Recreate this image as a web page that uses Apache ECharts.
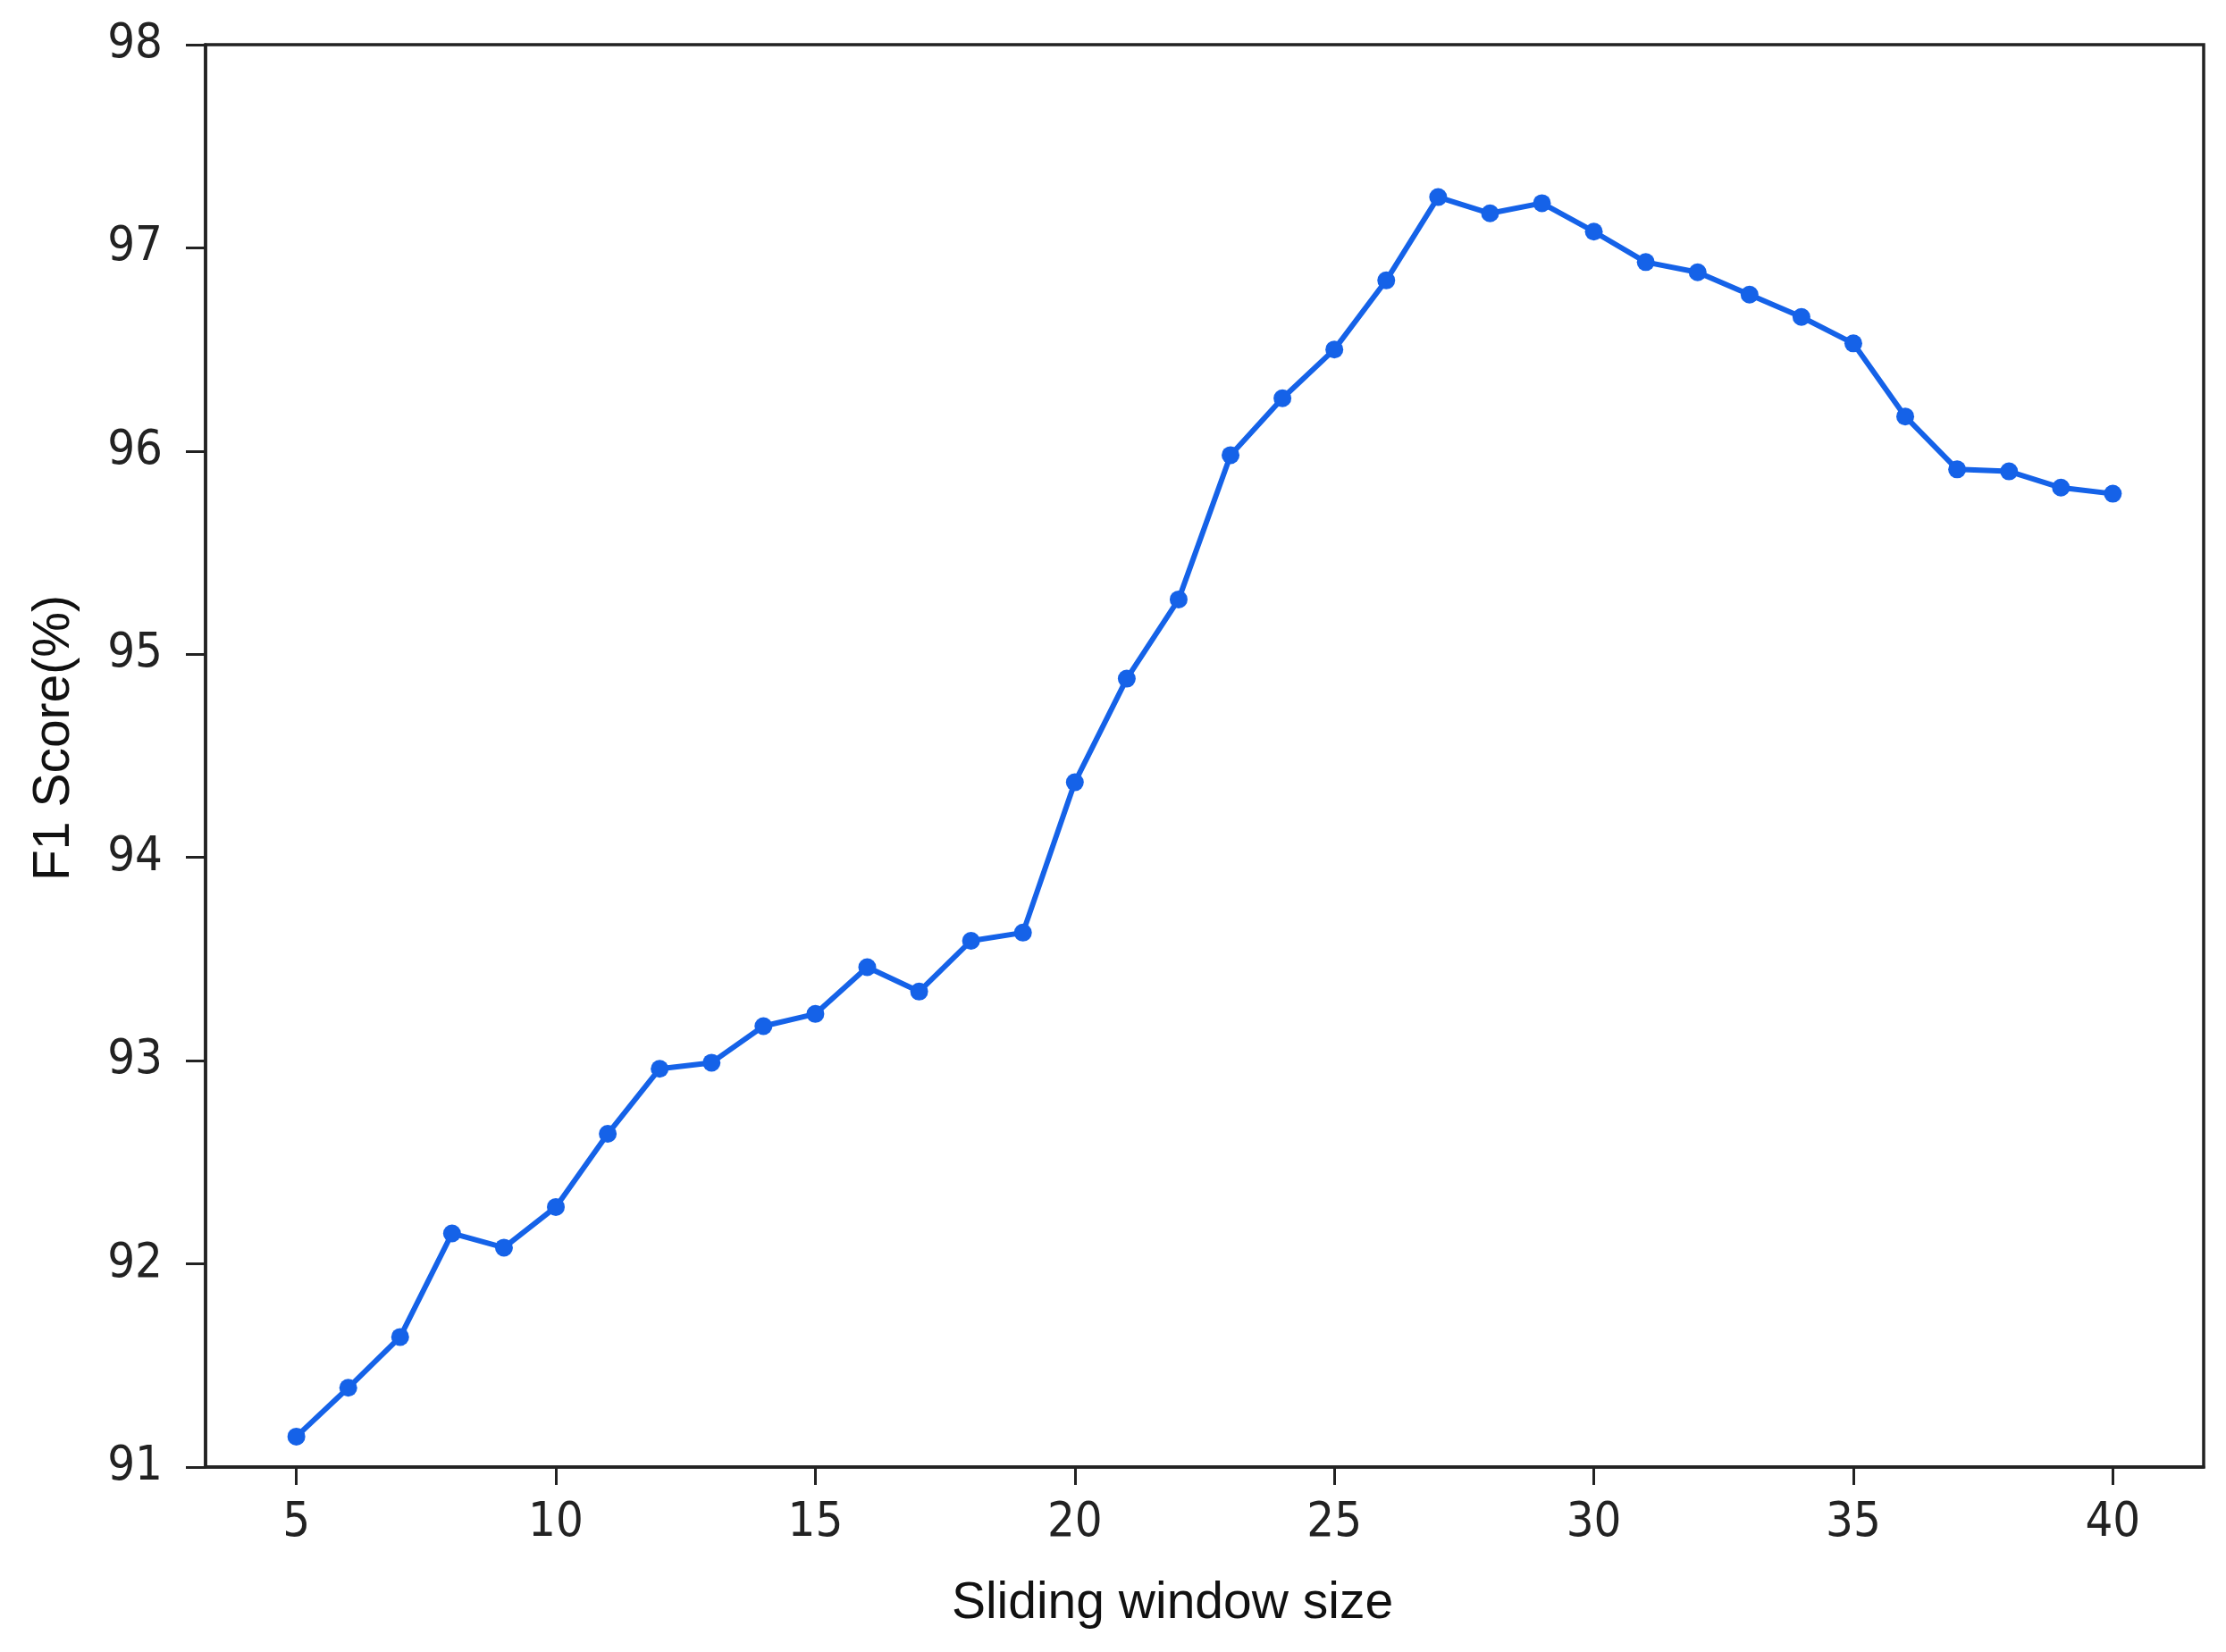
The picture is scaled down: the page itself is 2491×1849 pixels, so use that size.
<!DOCTYPE html>
<html>

<head>
  <meta charset="utf-8" />
  <title>F1 Score vs Sliding window size</title>
  <script src="https://cdn.jsdelivr.net/npm/echarts@6/dist/echarts.min.js"></script>
</head>

<body style="margin: 0; background: #ffffff;">
  <div id="f1chart" style="width: 2491px; height: 1849px;"></div>
  <script type="text/javascript">

    // Inline data
    let windowSizes = [5, 6, 7, 8, 9, 10, 11, 12, 13, 14, 15, 16, 17, 18, 19, 20, 21, 22,
      23, 24, 25, 26, 27, 28, 29, 30, 31, 32, 33, 34, 35, 36, 37, 38, 39, 40];
    let f1Scores = [91.15, 91.39, 91.64, 92.15, 92.08, 92.28, 92.64, 92.96, 92.99, 93.17,
      93.23, 93.46, 93.34, 93.59, 93.63, 94.37, 94.88, 95.27, 95.98, 96.26,
      96.50, 96.84, 97.25, 97.17, 97.22, 97.08, 96.93, 96.88, 96.77, 96.66,
      96.53, 96.17, 95.91, 95.90, 95.82, 95.79];
    let xTicks = [5, 10, 15, 20, 25, 30, 35, 40];

    let points = windowSizes.map(function (w, i) { return [w, f1Scores[i]]; });

    var chart = echarts.init(document.getElementById('f1chart'));

    var tickFont = "'Liberation Sans Narrow', 'Arial Narrow', 'DejaVu Sans Condensed', sans-serif";
    var nameFont = "'Liberation Sans', Arial, sans-serif";

    var option = {
      backgroundColor: '#ffffff',
      animation: false,
      grid: {
        left: 230,
        right: 25,
        top: 50,
        bottom: 207,
        show: true,
        borderColor: '#222',
        borderWidth: 3.5
      },
      xAxis: {
        type: 'value',
        min: 3.25,
        max: 41.75,
        name: 'Sliding window size',
        nameLocation: 'middle',
        nameGap: 125,
        nameTextStyle: {
          fontFamily: nameFont,
          fontSize: 57,
          color: '#111',
          padding: [0, 72, 0, 0]
        },
        splitLine: { show: false },
        axisLine: { lineStyle: { color: '#222', width: 3.5 } },
        axisTick: {
          inside: false,
          length: 20,
          customValues: xTicks,
          lineStyle: { color: '#222', width: 3 }
        },
        axisLabel: {
          customValues: xTicks,
          margin: 36,
          fontFamily: tickFont,
          fontSize: 54,
          color: '#222'
        }
      },
      yAxis: {
        type: 'value',
        min: 91,
        max: 98,
        interval: 1,
        name: 'F1 Score(%)',
        nameLocation: 'middle',
        nameGap: 140,
        nameRotate: 90,
        nameTextStyle: {
          fontFamily: nameFont,
          fontSize: 57,
          color: '#111',
          padding: [0, 0, 0, 40]
        },
        splitLine: { show: false },
        axisLine: { show: true, lineStyle: { color: '#222', width: 3.5 } },
        axisTick: {
          show: true,
          inside: false,
          length: 22,
          lineStyle: { color: '#222', width: 3 }
        },
        axisLabel: {
          margin: 48,
          fontFamily: tickFont,
          fontSize: 54,
          color: '#222'
        }
      },
      series: [
        {
          name: 'F1 Score',
          type: 'line',
          data: points,
          symbol: 'circle',
          symbolSize: 20,
          color: '#1562e8',
          lineStyle: { width: 6, color: '#1562e8' },
          itemStyle: { color: '#1562e8' }
        }
      ]
    };

    chart.setOption(option);
  </script>
</body>

</html>
